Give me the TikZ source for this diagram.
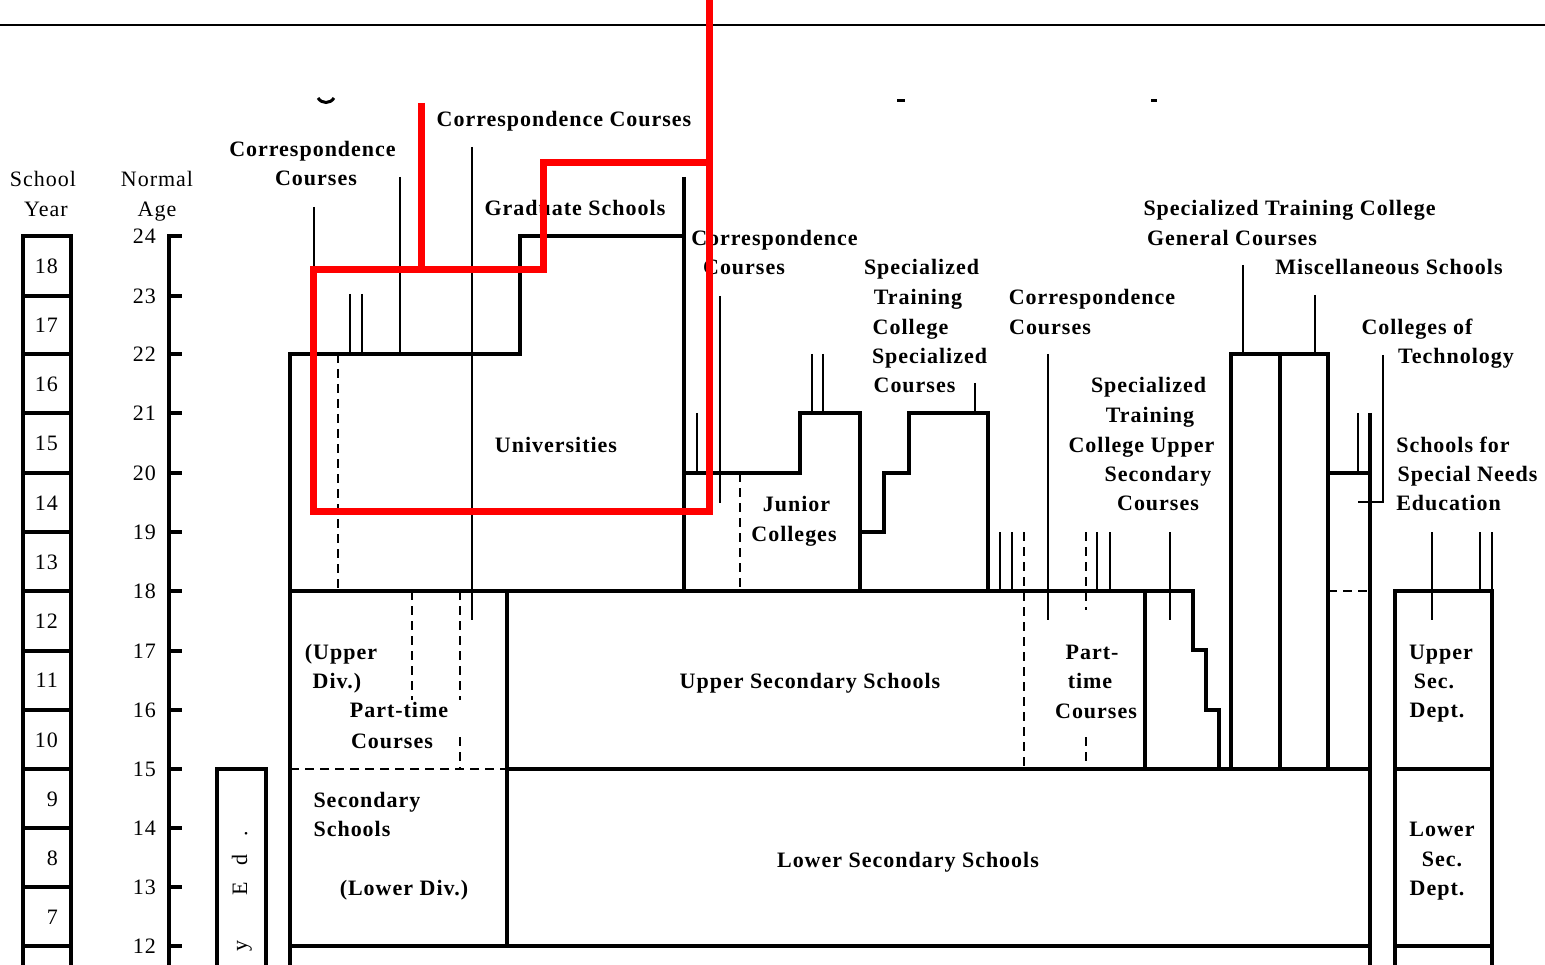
\documentclass[tikz,border=0pt]{standalone}
\usepackage{fontspec}
\setmainfont{Liberation Serif}
\newfontfamily\lblfont[LetterSpace=4.5]{Liberation Serif}
\begin{document}
\begin{tikzpicture}[x=1pt,y=-1pt,
  thk/.style={line width=3.6pt},
  med/.style={line width=2.8pt},
  thn/.style={line width=2pt},
  dsh/.style={line width=1.4pt,dash pattern=on 9pt off 6pt},
  redl/.style={draw=red,line width=7pt,line join=miter},
  lbl/.style={inner sep=0pt,text height=14.5pt,text depth=0pt,font=\lblfont\bfseries\fontsize{22}{26}\selectfont},
  nrm/.style={inner sep=0pt,text height=14.5pt,text depth=0pt,font=\lblfont\fontsize{22}{26}\selectfont},
  ynum/.style={nrm,anchor=east}
]
\useasboundingbox (0,0) rectangle (1545,965);
\fill[white] (0,0) rectangle (1545,965);
% top rule
\draw[line width=2pt] (0,25) -- (1545,25);
% title fragments
\draw[line width=3pt] (318,98) .. controls (322,104) and (330,104) .. (334,98);
\draw[line width=3pt] (897,101) -- (905,101);
\draw[line width=3pt] (1151,101) -- (1157,101);

% school year column
\draw[thk] (23,965) -- (23,236) -- (71,236) -- (71,965);
\foreach \yy in {296,354,413,473,532,591,651,710,769,828,887,946}
  \draw[thk] (23,\yy) -- (71,\yy);
\node[nrm] (hsy1) at (43,179) {School};
\node[nrm] (hsy2) at (46,209) {Year};
\foreach \n/\yy in {18/266,17/325,16/384,15/443,14/503,13/562,12/621,11/680,10/740,9/799,8/858,7/917}
  \node[ynum] (sy\n) at (58,\yy) {\n};

% normal age axis
\node[nrm] (hna1) at (157,179) {Normal};
\node[nrm] (hna2) at (157,209) {Age};
\draw[thk] (169,965) -- (169,236) -- (182,236);
\foreach \a/\yy in {23/296,22/354,21/413,20/473,19/532,18/591,17/651,16/710,15/769,14/828,13/887,12/946}
  \draw[thk] (169,\yy) -- (182,\yy);
\foreach \a/\yy in {24/236,23/296,22/354,21/413,20/473,19/532,18/591,17/651,16/710,15/769,14/828,13/887,12/946}
  \node[ynum] (age\a) at (156,\yy) {\a};

% compulsory ed. box fragment
\draw[thk] (217,965) -- (217,769) -- (266,769) -- (266,965);
\node[nrm,rotate=90,text height=10pt] (ced1) at (242,946) {y};
\node[nrm,rotate=90,text height=10pt] (ced2) at (242,889) {E};
\node[nrm,rotate=90,text height=10pt] (ced3) at (242,860) {d};
\node[nrm,rotate=90,text height=10pt] (ced4) at (242,834) {.};

% universities and graduate schools
\draw[thk] (290,965) -- (290,354) -- (520,354) -- (520,236) -- (684,236);
\draw[thk] (684,177) -- (684,591);
\draw[med] (400,177) -- (400,354);
\draw[thn] (314,207) -- (314,354);
\draw[thn] (350,294) -- (350,354);
\draw[thn] (362,294) -- (362,354);
\draw[thn] (472,147) -- (472,620);
\draw[dsh] (338,354) -- (338,591);

% upper secondary / secondary schools
\draw[thk] (290,591) -- (1193,591) -- (1193,650) -- (1206,650) -- (1206,710) -- (1219,710) -- (1219,769);
\draw[thk] (507,591) -- (507,946);
\draw[thk] (507,769) -- (1370,769);
\draw[dsh] (290,769) -- (507,769);
\draw[thk] (290,946) -- (1370,946);
\draw[dsh] (412,591) -- (412,700);
\draw[dsh] (460,591) -- (460,700);
\draw[dsh] (460,737) -- (460,769);

% junior colleges
\draw[thk] (684,473) -- (800,473) -- (800,413) -- (860,413) -- (860,591);
\draw[thn] (697,413) -- (697,473);
\draw[thn] (720,296) -- (720,503);
\draw[dsh] (740,473) -- (740,591);
\draw[thn] (812,354) -- (812,413);
\draw[thn] (823,354) -- (823,413);

% specialized training college
\draw[thk] (860,532) -- (884,532) -- (884,473) -- (909,473) -- (909,413) -- (988,413) -- (988,591);
\draw[med] (975,383) -- (975,413);
\draw[thn] (1000,532) -- (1000,591);
\draw[thn] (1012,532) -- (1012,591);
\draw[dsh] (1024,532) -- (1024,769);
\draw[thn] (1048,354) -- (1048,620);
\draw[dsh] (1086,532) -- (1086,610);
\draw[dsh] (1086,737) -- (1086,769);
\draw[thn] (1097,532) -- (1097,591);
\draw[thn] (1110,532) -- (1110,591);
\draw[thn] (1170,532) -- (1170,620);
\draw[thk] (1145,591) -- (1145,769);

% general courses / miscellaneous
\draw[thk] (1231,769) -- (1231,354) -- (1328,354) -- (1328,769);
\draw[thk] (1280,354) -- (1280,769);
\draw[thn] (1243,265) -- (1243,354);
\draw[thn] (1315,295) -- (1315,354);
\draw[thk] (1328,473) -- (1370,473);
\draw[thk] (1370,413) -- (1370,965);
\draw[thn] (1358,413) -- (1358,473);
\draw[thn] (1383,355) -- (1383,502) -- (1358,502);
\draw[dsh] (1328,591) -- (1370,591);

% special needs education
\draw[thk] (1395,965) -- (1395,591) -- (1492,591) -- (1492,965);
\draw[thk] (1395,769) -- (1492,769);
\draw[thk] (1395,946) -- (1492,946);
\draw[thn] (1432,532) -- (1432,620);
\draw[thn] (1480,532) -- (1480,591);
\draw[thn] (1492,532) -- (1492,591);

% labels
\node[lbl] (cc1) at (564,119.5) {Correspondence Courses};
\node[lbl] (cc2a) at (312.5,149) {Correspondence};
\node[lbl] (cc2b) at (316,178) {Courses};
\node[lbl] (grad) at (575,208.7) {Graduate Schools};
\node[lbl] (univ) at (556,445) {Universities};
\node[lbl] (cc3a) at (774.5,238) {Correspondence};
\node[lbl] (cc3b) at (744,267) {Courses};
\node[lbl] (jc1) at (796.5,504) {Junior};
\node[lbl] (jc2) at (794,534.5) {Colleges};
\node[lbl] (stc1) at (921.5,267) {Specialized};
\node[lbl] (stc2) at (918,297) {Training};
\node[lbl] (stc3) at (910.5,327) {College};
\node[lbl] (stc4) at (929.5,356) {Specialized};
\node[lbl] (stc5) at (914.5,385) {Courses};
\node[lbl] (cc4a) at (1092,297) {Correspondence};
\node[lbl] (cc4b) at (1050,327) {Courses};
\node[lbl] (stu1) at (1148.5,385) {Specialized};
\node[lbl] (stu2) at (1150,415) {Training};
\node[lbl] (stu3) at (1141.5,445) {College Upper};
\node[lbl] (stu4) at (1158,474) {Secondary};
\node[lbl] (stu5) at (1158,503) {Courses};
\node[lbl] (stg1) at (1289.5,208) {Specialized Training College};
\node[lbl] (stg2) at (1232,238) {General Courses};
\node[lbl] (misc) at (1389,267) {Miscellaneous Schools};
\node[lbl] (ct1) at (1417,327) {Colleges of};
\node[lbl] (ct2) at (1456,356) {Technology};
\node[lbl] (sn1) at (1453,445) {Schools for};
\node[lbl] (sn2) at (1467.5,474) {Special Needs};
\node[lbl] (sn3) at (1448.5,503) {Education};
\node[lbl] (ss1) at (341,652) {(Upper};
\node[lbl] (ss2) at (337,681) {Div.)};
\node[lbl] (ss3) at (399,710) {Part-time};
\node[lbl] (ss4) at (392,741) {Courses};
\node[lbl] (ss5) at (367,800) {Secondary};
\node[lbl] (ss6) at (352,829) {Schools};
\node[lbl] (ss7) at (404,888) {(Lower Div.)};
\node[lbl] (uss) at (810,681) {Upper Secondary Schools};
\node[lbl] (lss) at (908,860) {Lower Secondary Schools};
\node[lbl] (pt1) at (1092,652) {Part-};
\node[lbl] (pt2) at (1090,681) {time};
\node[lbl] (pt3) at (1096,711) {Courses};
\node[lbl] (usd1) at (1441,652) {Upper};
\node[lbl] (usd2) at (1434,681) {Sec.};
\node[lbl] (usd3) at (1437,710) {Dept.};
\node[lbl] (lsd1) at (1442,829) {Lower};
\node[lbl] (lsd2) at (1442,859) {Sec.};
\node[lbl] (lsd3) at (1437,888) {Dept.};

% red annotation
\draw[redl] (421,103) -- (421,270);
\draw[redl] (709,0) -- (709,511) -- (313,511) -- (313,270) -- (543,270) -- (543,163) -- (709,163);
\end{tikzpicture}
\end{document}
